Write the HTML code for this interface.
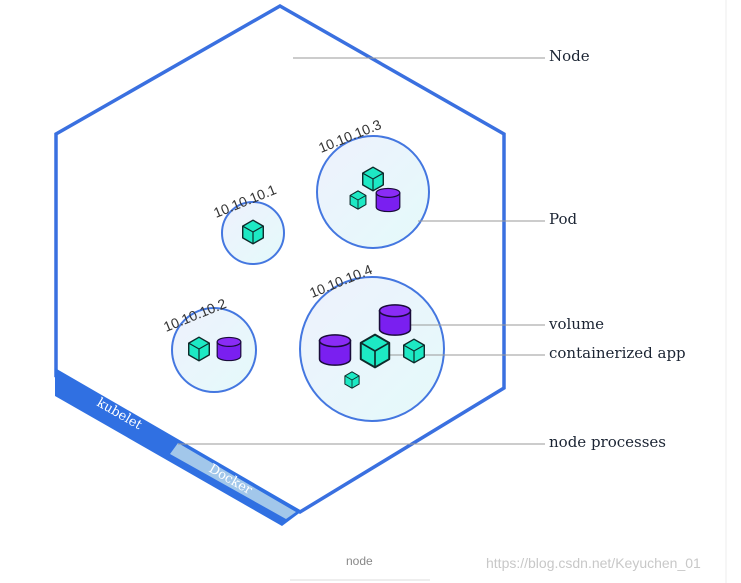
<!DOCTYPE html>
<html><head><meta charset="utf-8"><style>
html,body{margin:0;padding:0;background:#fff;width:741px;height:583px;overflow:hidden}
svg{display:block}
.lbl{font-family:"DejaVu Serif","Liberation Serif",serif;font-size:15px;fill:#1b2433}
.ip{font-family:"Liberation Sans",sans-serif;font-size:14px;fill:#333}
</style></head><body>
<svg width="741" height="583" viewBox="0 0 741 583" xmlns="http://www.w3.org/2000/svg">
<defs>
<linearGradient id="g" x1="0" y1="0" x2="1" y2="1"><stop offset="0" stop-color="#eef1fd"/><stop offset="1" stop-color="#e4fafa"/></linearGradient>
<symbol id="cube" viewBox="-1.1 -1.1 2.2 2.2">
<polygon points="0,-1 0.87,-0.5 0.87,0.5 0,1 -0.87,0.5 -0.87,-0.5" fill="#1de9c4" stroke="#0e2a2a" stroke-width="0.12" stroke-linejoin="round"/>
<polyline points="-0.87,-0.5 0,0 0.87,-0.5" fill="none" stroke="#0e2a2a" stroke-width="0.1"/>
<line x1="0" y1="0" x2="0" y2="1" stroke="#0e2a2a" stroke-width="0.1"/>
</symbol>
<symbol id="cyl" viewBox="-1.1 -1.1 2.2 2.2">
<path d="M-1,-0.6 L-1,0.6 A1,0.38 0 0 0 1,0.6 L1,-0.6 Z" fill="#7a1ff0" stroke="#1a0c3a" stroke-width="0.1"/>
<ellipse cx="0" cy="-0.6" rx="1" ry="0.38" fill="#8a2cf5" stroke="#1a0c3a" stroke-width="0.1"/>
</symbol>
</defs>
<line x1="726" y1="0" x2="726" y2="583" stroke="#eee" stroke-width="1"/>
<polygon points="280,6 504,134 504,388 300,512 56,376 56,134" fill="#fff" stroke="#3a70e0" stroke-width="3.5" stroke-linejoin="miter"/>
<polygon points="55,368 302,511 282,526 55,396" fill="#3070e2"/>
<polygon points="178,443 296,512 286,519 170,454" fill="#a2c7ea"/>
<text class="lbl" style="fill:#fff;font-size:13px" transform="translate(96,405) rotate(30)">kubelet</text>
<text class="lbl" style="fill:#fff;font-size:13px" transform="translate(208,471) rotate(30)">Docker</text>
<g fill="url(#g)" stroke="#4477e0" stroke-width="2">
<circle cx="253" cy="233" r="31"/>
<circle cx="373" cy="192" r="56"/>
<circle cx="214" cy="350" r="42"/>
<circle cx="372" cy="349" r="72"/>
</g>
<g stroke="#999" stroke-width="1">
<line x1="293" y1="58" x2="545" y2="58"/>
<line x1="418" y1="221" x2="545" y2="221"/>
<line x1="398" y1="325" x2="545" y2="325"/>
<line x1="375" y1="355" x2="545" y2="355"/>
<line x1="178" y1="444" x2="545" y2="444"/>
</g>
<text class="ip" transform="translate(216,218) rotate(-22)">10.10.10.1</text>
<text class="ip" transform="translate(321,153) rotate(-22)">10.10.10.3</text>
<text class="ip" transform="translate(166,332) rotate(-22)">10.10.10.2</text>
<text class="ip" transform="translate(312,298) rotate(-22)">10.10.10.4</text>
<use href="#cube" x="240" y="219" width="26" height="26"/>
<use href="#cube" x="360" y="166" width="26" height="26"/>
<use href="#cube" x="348" y="190" width="20" height="20"/>
<use href="#cyl" x="375" y="187" width="26" height="26"/>
<use href="#cube" x="186" y="336" width="26" height="26"/>
<use href="#cyl" x="216" y="336" width="26" height="26"/>
<use href="#cyl" x="378" y="303" width="34" height="34"/>
<use href="#cyl" x="318" y="333" width="34" height="34"/>
<use href="#cube" x="357" y="333" width="36" height="36"/>
<use href="#cube" x="401" y="338" width="26" height="26"/>
<use href="#cube" x="343" y="371" width="18" height="18"/>
<text class="lbl" x="549" y="61">Node</text>
<text class="lbl" x="549" y="224">Pod</text>
<text class="lbl" x="549" y="329">volume</text>
<text class="lbl" x="549" y="358">containerized app</text>
<text class="lbl" x="549" y="447">node processes</text>
<text x="346" y="565" style="font-family:'Liberation Sans',sans-serif;font-size:12px;fill:#888">node</text>
<line x1="290" y1="580" x2="430" y2="580" stroke="#ddd"/>
<text x="486" y="568" style="font-family:'Liberation Sans',sans-serif;font-size:14px;fill:#c8c8c8">https://blog.csdn.net/Keyuchen_01</text>
</svg>
</body></html>
